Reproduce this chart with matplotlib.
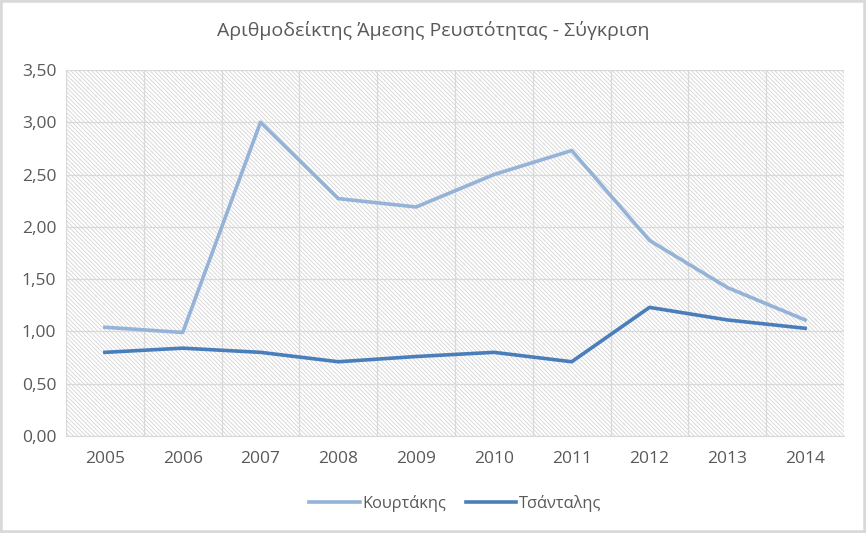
import matplotlib.pyplot as plt
from matplotlib.patches import Rectangle

years = ['2005', '2006', '2007', '2008', '2009', '2010', '2011', '2012', '2013', '2014']
kourtakis = [1.04, 0.99, 3.00, 2.27, 2.19, 2.50, 2.73, 1.87, 1.42, 1.11]
tsantalis = [0.80, 0.84, 0.80, 0.71, 0.76, 0.80, 0.71, 1.23, 1.11, 1.03]
yticks = [0, 0.5, 1.0, 1.5, 2.0, 2.5, 3.0, 3.5]

plt.rcParams['font.family'] = ['Open Sans', 'DejaVu Sans']
plt.rcParams['hatch.linewidth'] = 0.6
plt.rcParams['hatch.color'] = '#D4D4D4'
grey = '#595959'

fig = plt.figure(figsize=(8.66, 5.33), dpi=100)
ax = fig.add_axes([66/866, 1-436/533, 778/866, 366/533])

x = list(range(len(years)))
# hatched plot area background
ax.add_patch(Rectangle((0, 0), 1, 1, transform=ax.transAxes, facecolor='white',
                       edgecolor='#D4D4D4', hatch='\\' * 8, lw=0, zorder=0))

ax.plot(x, kourtakis, color='#95B3D7', lw=2.6, label='Κουρτάκης', zorder=3, solid_joinstyle='round')
ax.plot(x, tsantalis, color='#4A7EBB', lw=2.6, label='Τσάνταλης', zorder=3, solid_joinstyle='round')

ax.set_xlim(-0.5, len(years) - 0.5)
ax.set_ylim(0, 3.5)
ax.set_yticks(yticks)
ax.set_yticklabels([f'{v:.2f}'.replace('.', ',') for v in yticks])
ax.set_xticks(x)
ax.set_xticklabels(years)
ax.set_xticks([i - 0.5 for i in range(len(years) + 1)], minor=True)

ax.grid(axis='y', which='major', color='#D9D9D9', lw=0.9, zorder=1)
ax.grid(axis='x', which='minor', color='#D9D9D9', lw=0.9, zorder=1)
ax.set_axisbelow(True)
for s in ax.spines.values():
    s.set_visible(False)
ax.spines['bottom'].set_visible(True)
ax.spines['bottom'].set_color('#D9D9D9')
ax.tick_params(axis='both', which='both', length=0, colors=grey, labelsize=12.5)
ax.tick_params(axis='y', pad=7)
ax.tick_params(axis='x', pad=11)

fig.text(0.5, 1 - 30/533, 'Αριθμοδείκτης Άμεσης Ρευστότητας - Σύγκριση',
         ha='center', va='center', fontsize=14, color=grey)

ax.legend(loc='center', bbox_to_anchor=(0.5, -(503-436)/366), ncol=2, frameon=False,
          fontsize=11.8, labelcolor=grey, handlelength=3.1, handletextpad=0.15, columnspacing=1.2)

fig.add_artist(Rectangle((0, 0), 1, 1, transform=fig.transFigure, fill=False,
                         edgecolor='#D9D9D9', lw=4))

fig.savefig('out.png', dpi=100)
